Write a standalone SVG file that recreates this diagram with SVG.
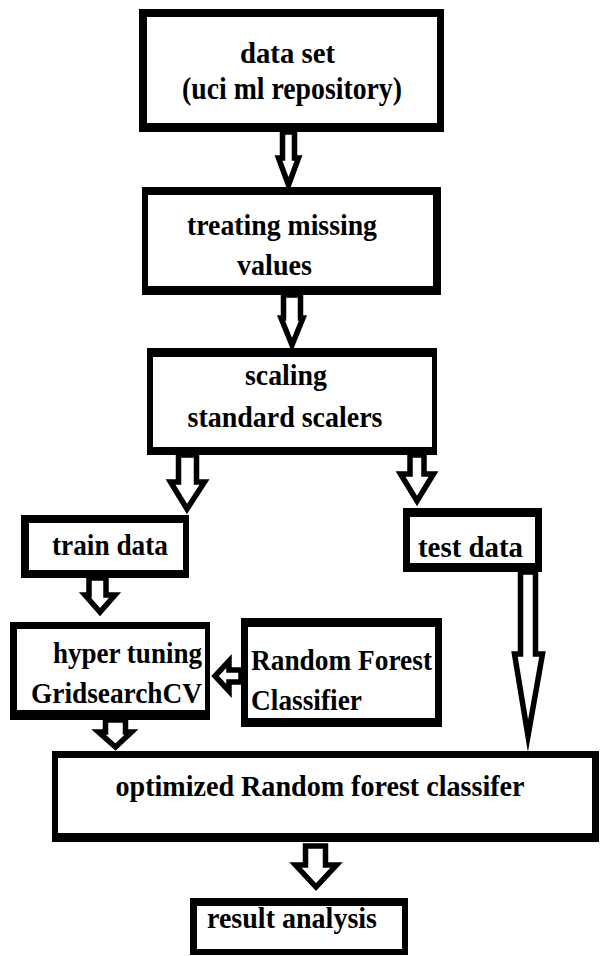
<svg xmlns="http://www.w3.org/2000/svg" width="600" height="956" viewBox="0 0 600 956">
<style>
.frame{fill:#000;fill-rule:evenodd}
.t{font-family:"Liberation Serif","Times New Roman",serif;font-weight:bold;font-size:30px;fill:#000}
.c{text-anchor:middle}
.e{text-anchor:end}
.arr{fill:#fff;stroke:#000;stroke-width:5.5;stroke-linejoin:miter;stroke-miterlimit:10}
</style>
<rect width="600" height="956" fill="#fff"/>
<g id="connectors">
<polygon class="arr" points="282.5,132 294.5,132 294.5,158 298.5,158 288.5,185 278.5,158 282.5,158"/>
<polygon class="arr" points="283.5,295 300.5,295 300.5,318 303,318 292,345 281,318 283.5,318"/>
<polygon class="arr" points="178.5,455 196.5,455 196.5,482 204.5,482 187,509 170.5,482 178.5,482"/>
<polygon class="arr" points="410,455 424,455 424,474 433.5,474 417,501 400.5,474 410,474"/>
<polygon class="arr" points="89,578 106,578 106,595 115,595 100,612 85,595 89,595"/>
<polygon class="arr" points="241,670 229,670 229,661 215,676 229,691 229,682 241,682"/>
<polygon class="arr" points="105.5,720 125.5,720 125.5,732 131.5,732 115.5,747 98.5,732 105.5,732"/>
<polygon class="arr" points="520.5,572 535.5,572 535.5,654 542.5,654 528,736 514.5,654 520.5,654"/>
<polygon class="arr" points="305.5,846 325.5,846 325.5,865 336.5,865 316,887 295.5,865 305.5,865"/>
</g>
<g id="data-set">
<path class="frame" d="M139,9H444V132H139Z M147,17V123H437V17Z"/>
<text class="t c" x="287.5" y="63" textLength="95" lengthAdjust="spacingAndGlyphs">data set</text>
<text class="t c" x="292" y="99" style="font-size:32px" textLength="220" lengthAdjust="spacingAndGlyphs">(uci ml repository)</text>
</g>
<g id="treating-missing">
<path class="frame" d="M142,187H441V295H142Z M148,195V286H433V195Z"/>
<text class="t c" x="282" y="235" textLength="190" lengthAdjust="spacingAndGlyphs">treating missing</text>
<text class="t c" x="274.5" y="275" textLength="75" lengthAdjust="spacingAndGlyphs">values</text>
</g>
<g id="scaling">
<path class="frame" d="M147,348H437V455H147Z M153,357V447H432V357Z"/>
<text class="t c" x="286" y="385" textLength="82" lengthAdjust="spacingAndGlyphs">scaling</text>
<text class="t c" x="285" y="427" textLength="195" lengthAdjust="spacingAndGlyphs">standard scalers</text>
</g>
<g id="train-data">
<path class="frame" d="M21,515H189V578H21Z M29,523V570H183V523Z"/>
<text class="t c" x="110" y="555" textLength="116" lengthAdjust="spacingAndGlyphs">train data</text>
</g>
<g id="test-data">
<path class="frame" d="M403,508H542V572H403Z M410,517V563H535V517Z"/>
<text class="t c" x="470.5" y="557" textLength="105" lengthAdjust="spacingAndGlyphs">test data</text>
</g>
<g id="hyper-tuning">
<path class="frame" d="M10,622H210V720H10Z M17,629V710H205V629Z"/>
<text class="t e" x="202" y="663" textLength="149" lengthAdjust="spacingAndGlyphs">hyper tuning</text>
<text class="t e" x="202" y="703" textLength="171" lengthAdjust="spacingAndGlyphs">GridsearchCV</text>
</g>
<g id="random-forest">
<path class="frame" d="M241,618H442V727H241Z M248,627V718H435V627Z"/>
<text class="t" x="251" y="670" textLength="181" lengthAdjust="spacingAndGlyphs">Random Forest</text>
<text class="t" x="251" y="710" textLength="111" lengthAdjust="spacingAndGlyphs">Classifier</text>
</g>
<g id="optimized">
<path class="frame" d="M52,751H599V842H52Z M58,758V833H592V758Z"/>
<text class="t c" x="320" y="796" textLength="409" lengthAdjust="spacingAndGlyphs">optimized Random forest classifer</text>
</g>
<g id="result-analysis">
<path class="frame" d="M190,898H408V955H190Z M197,906V949H402V906Z"/>
<text class="t" x="207" y="928" textLength="170" lengthAdjust="spacingAndGlyphs">result analysis</text>
</g>
</svg>
